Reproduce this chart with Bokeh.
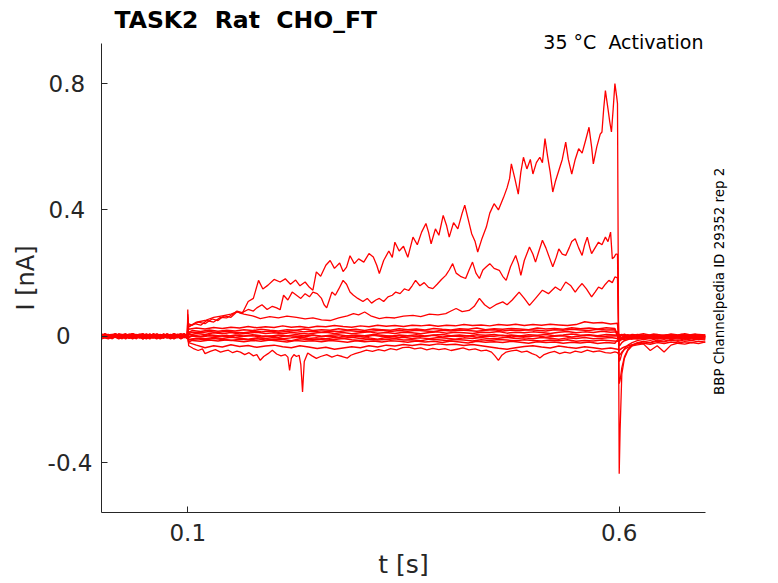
import math
from bokeh.plotting import figure
from bokeh.models import Range1d, FixedTicker, Label, Title
from bokeh.embed import file_html
from bokeh.resources import INLINE

# ---------------- data ----------------
t_pre_a = [0.000, 0.008, 0.016, 0.024, 0.032, 0.040, 0.048, 0.056, 0.064, 0.072, 0.080, 0.088, 0.096, 0.0995]
t_pre_b = [0.000, 0.004, 0.012, 0.020, 0.028, 0.036, 0.044, 0.052, 0.060, 0.068, 0.076, 0.084, 0.092, 0.0995]
t_step_a = [0.100, 0.101, 0.110, 0.120, 0.130, 0.140, 0.150, 0.160, 0.170, 0.180, 0.190, 0.200, 0.210,
            0.220, 0.230, 0.240, 0.250, 0.260, 0.270, 0.280, 0.290, 0.300, 0.310, 0.320, 0.330, 0.340,
            0.350, 0.360, 0.370, 0.380, 0.390, 0.400, 0.410, 0.420, 0.430, 0.440, 0.450, 0.460, 0.470,
            0.480, 0.490, 0.500, 0.510, 0.520, 0.530, 0.540, 0.550, 0.560, 0.570, 0.580, 0.590, 0.598]
t_step_b = [0.100, 0.101, 0.105, 0.115, 0.125, 0.135, 0.145, 0.155, 0.165, 0.175, 0.185, 0.195, 0.205,
            0.215, 0.225, 0.235, 0.245, 0.255, 0.265, 0.275, 0.285, 0.295, 0.305, 0.315, 0.325, 0.335,
            0.345, 0.355, 0.365, 0.375, 0.385, 0.395, 0.405, 0.415, 0.425, 0.435, 0.445, 0.455, 0.465,
            0.475, 0.485, 0.495, 0.505, 0.515, 0.525, 0.535, 0.545, 0.555, 0.565, 0.575, 0.585, 0.595]
t_tail_a = [0.600, 0.601, 0.603, 0.606, 0.610, 0.615, 0.621, 0.628, 0.636, 0.644, 0.652, 0.660, 0.668,
            0.676, 0.684, 0.692, 0.700]
t_tail_b = [0.600, 0.601, 0.603, 0.606, 0.610, 0.615, 0.621, 0.632, 0.640, 0.648, 0.656, 0.664, 0.672,
            0.680, 0.688, 0.696, 0.700]

# pre-pulse baseline values per trace
pre_A = [0.004, -0.006, 0.008, -0.002, 0.006, -0.008, 0.004, 0.000, -0.006, 0.008, -0.004, 0.006, -0.002, 0.004]
pre_B = [-0.004, 0.006, -0.008, 0.004, -0.002, 0.008, -0.006, 0.002, 0.006, -0.004, 0.008, -0.006, 0.004, -0.002]
pre_C = [0.008, -0.002, 0.004, -0.008, 0.006, 0.000, -0.004, 0.008, -0.006, 0.002, -0.008, 0.004, 0.006, 0.000]
pre_D = [-0.008, 0.004, 0.000, 0.006, -0.006, 0.004, 0.008, -0.004, 0.002, -0.006, 0.004, -0.002, 0.008, -0.004]
pre_E = [0.002, 0.008, -0.004, 0.000, 0.008, -0.006, 0.002, -0.008, 0.006, 0.004, -0.002, 0.008, -0.006, 0.002]
pre_F = [-0.002, -0.008, 0.006, 0.002, -0.004, 0.006, -0.008, 0.004, 0.000, 0.006, -0.006, 0.002, -0.004, 0.006]
pre_G = [0.006, 0.000, -0.006, 0.008, 0.002, -0.004, 0.006, -0.006, 0.008, -0.002, 0.004, -0.008, 0.002, -0.006]
pre_H = [-0.006, 0.002, 0.008, -0.004, 0.004, 0.002, -0.008, 0.006, -0.004, 0.000, 0.006, -0.004, 0.008, 0.000]
pre_J = [0.000, -0.004, 0.002, 0.006, -0.008, 0.008, 0.000, -0.006, 0.004, -0.008, 0.002, 0.006, -0.008, 0.004]
pre_K = [0.004, 0.006, -0.002, -0.006, 0.004, -0.002, 0.006, 0.002, -0.008, 0.006, 0.000, -0.004, 0.004, -0.008]
pre_L = [-0.002, 0.004, 0.006, -0.006, 0.000, 0.006, -0.004, 0.008, -0.002, -0.004, 0.008, 0.000, -0.006, 0.006]
pre_M = [0.006, -0.004, 0.002, -0.008, 0.004, 0.008, -0.002, 0.000, -0.006, 0.006, -0.004, 0.002, 0.008, -0.002]
pre_N = [-0.008, 0.000, 0.006, 0.002, -0.006, -0.002, 0.004, -0.008, 0.008, -0.004, 0.000, 0.006, -0.004, 0.002]
pre_O = [0.000, 0.008, -0.006, 0.004, 0.006, -0.008, 0.002, 0.006, -0.002, 0.004, -0.006, 0.008, 0.000, -0.004]

# large activation traces (time, current) during the pulse
step_A = [(0.1000, 0.085), (0.1005, 0.040), (0.105, 0.035), (0.112, 0.045), (0.120, 0.040), (0.128, 0.055),
          (0.135, 0.050), (0.142, 0.065), (0.150, 0.060), (0.157, 0.078), (0.163, 0.072), (0.170, 0.110),
          (0.176, 0.120), (0.182, 0.177), (0.187, 0.150), (0.193, 0.162), (0.200, 0.180), (0.207, 0.172),
          (0.213, 0.182), (0.219, 0.165), (0.225, 0.178), (0.230, 0.160), (0.236, 0.172), (0.241, 0.155),
          (0.245, 0.146), (0.249, 0.204), (0.254, 0.190), (0.260, 0.225), (0.265, 0.240), (0.270, 0.215),
          (0.276, 0.232), (0.280, 0.205), (0.284, 0.219), (0.288, 0.255), (0.293, 0.230), (0.298, 0.245),
          (0.304, 0.235), (0.310, 0.262), (0.315, 0.251), (0.319, 0.225), (0.322, 0.199), (0.327, 0.240),
          (0.333, 0.270), (0.337, 0.250), (0.340, 0.298), (0.345, 0.270), (0.350, 0.285), (0.355, 0.250),
          (0.361, 0.314), (0.366, 0.290), (0.371, 0.330), (0.376, 0.357), (0.379, 0.330), (0.382, 0.293),
          (0.387, 0.340), (0.391, 0.320), (0.396, 0.383), (0.400, 0.350), (0.403, 0.314), (0.408, 0.360),
          (0.413, 0.340), (0.418, 0.390), (0.421, 0.415), (0.425, 0.370), (0.429, 0.325), (0.433, 0.300),
          (0.436, 0.267), (0.441, 0.310), (0.446, 0.346), (0.450, 0.390), (0.455, 0.420), (0.460, 0.400),
          (0.466, 0.440), (0.470, 0.470), (0.473, 0.500), (0.475, 0.546), (0.479, 0.500), (0.483, 0.450),
          (0.486, 0.520), (0.489, 0.567), (0.493, 0.530), (0.497, 0.560), (0.500, 0.514), (0.504, 0.550),
          (0.508, 0.567), (0.511, 0.550), (0.514, 0.626), (0.517, 0.570), (0.520, 0.520), (0.523, 0.457),
          (0.526, 0.490), (0.530, 0.525), (0.534, 0.560), (0.538, 0.615), (0.541, 0.560), (0.545, 0.514),
          (0.549, 0.560), (0.553, 0.594), (0.557, 0.580), (0.561, 0.620), (0.565, 0.662), (0.568, 0.600),
          (0.570, 0.546), (0.574, 0.600), (0.578, 0.640), (0.580, 0.647), (0.582, 0.720), (0.584, 0.778),
          (0.587, 0.720), (0.589, 0.680), (0.591, 0.647), (0.593, 0.720), (0.595, 0.800), (0.597, 0.760),
          (0.598, 0.737)]

step_B = [(0.1000, 0.060), (0.101, 0.030), (0.108, 0.040), (0.115, 0.035), (0.122, 0.050), (0.130, 0.045),
          (0.138, 0.060), (0.145, 0.058), (0.152, 0.070), (0.157, 0.080), (0.163, 0.075), (0.170, 0.085),
          (0.176, 0.080), (0.180, 0.090), (0.186, 0.100), (0.192, 0.085), (0.198, 0.095), (0.203, 0.090),
          (0.207, 0.084), (0.211, 0.130), (0.216, 0.115), (0.221, 0.140), (0.226, 0.130), (0.231, 0.120),
          (0.236, 0.135), (0.241, 0.125), (0.245, 0.140), (0.250, 0.135), (0.255, 0.120), (0.258, 0.100),
          (0.261, 0.090), (0.264, 0.115), (0.267, 0.140), (0.271, 0.130), (0.275, 0.150), (0.280, 0.177),
          (0.284, 0.165), (0.288, 0.140), (0.292, 0.130), (0.297, 0.120), (0.303, 0.110), (0.308, 0.120),
          (0.313, 0.105), (0.318, 0.115), (0.322, 0.120), (0.327, 0.110), (0.332, 0.125), (0.337, 0.130),
          (0.341, 0.140), (0.346, 0.135), (0.351, 0.150), (0.356, 0.145), (0.360, 0.160), (0.364, 0.177),
          (0.369, 0.160), (0.374, 0.170), (0.379, 0.155), (0.384, 0.151), (0.389, 0.165), (0.394, 0.180),
          (0.399, 0.193), (0.403, 0.210), (0.407, 0.230), (0.411, 0.200), (0.416, 0.190), (0.422, 0.183),
          (0.426, 0.210), (0.430, 0.235), (0.434, 0.200), (0.438, 0.183), (0.442, 0.210), (0.446, 0.220),
          (0.450, 0.230), (0.455, 0.215), (0.461, 0.209), (0.465, 0.190), (0.469, 0.177), (0.474, 0.220),
          (0.480, 0.256), (0.483, 0.230), (0.486, 0.193), (0.490, 0.240), (0.496, 0.283), (0.500, 0.260),
          (0.503, 0.235), (0.507, 0.270), (0.511, 0.304), (0.515, 0.280), (0.519, 0.250), (0.523, 0.220),
          (0.527, 0.250), (0.530, 0.277), (0.534, 0.260), (0.538, 0.256), (0.542, 0.280), (0.545, 0.300),
          (0.549, 0.309), (0.553, 0.280), (0.557, 0.256), (0.560, 0.290), (0.563, 0.314), (0.566, 0.280),
          (0.568, 0.262), (0.572, 0.280), (0.576, 0.298), (0.580, 0.290), (0.584, 0.314), (0.587, 0.300),
          (0.590, 0.330), (0.592, 0.246), (0.594, 0.250), (0.596, 0.260), (0.598, 0.260)]

step_C = [(0.1000, 0.070), (0.101, 0.030), (0.110, 0.045), (0.120, 0.050), (0.130, 0.060), (0.140, 0.065),
          (0.150, 0.070), (0.157, 0.077), (0.165, 0.070), (0.175, 0.065), (0.184, 0.056), (0.195, 0.062),
          (0.205, 0.058), (0.215, 0.064), (0.226, 0.060), (0.236, 0.055), (0.245, 0.058), (0.255, 0.052),
          (0.265, 0.050), (0.275, 0.058), (0.285, 0.065), (0.292, 0.072), (0.298, 0.068), (0.305, 0.077),
          (0.312, 0.065), (0.322, 0.056), (0.330, 0.060), (0.340, 0.058), (0.350, 0.064), (0.361, 0.066),
          (0.370, 0.062), (0.380, 0.070), (0.390, 0.068), (0.399, 0.072), (0.405, 0.080), (0.411, 0.088),
          (0.418, 0.078), (0.426, 0.082), (0.432, 0.095), (0.438, 0.120), (0.444, 0.100), (0.450, 0.088),
          (0.457, 0.100), (0.465, 0.109), (0.470, 0.100), (0.476, 0.115), (0.484, 0.140), (0.490, 0.120),
          (0.496, 0.098), (0.503, 0.120), (0.511, 0.146), (0.518, 0.135), (0.526, 0.156), (0.532, 0.145),
          (0.538, 0.172), (0.544, 0.160), (0.549, 0.140), (0.553, 0.155), (0.557, 0.167), (0.562, 0.150),
          (0.568, 0.125), (0.572, 0.140), (0.576, 0.156), (0.580, 0.150), (0.584, 0.165), (0.588, 0.177),
          (0.592, 0.170), (0.595, 0.188), (0.598, 0.185)]

step_L = [(0.100, 0.010), (0.101, -0.030), (0.106, -0.038), (0.112, -0.045), (0.117, -0.040), (0.120, -0.055),
          (0.126, -0.048), (0.132, -0.042), (0.138, -0.050), (0.143, -0.046), (0.147, -0.044), (0.152, -0.052),
          (0.157, -0.047), (0.161, -0.050), (0.166, -0.058), (0.171, -0.052), (0.176, -0.062), (0.180, -0.058),
          (0.184, -0.076), (0.188, -0.064), (0.193, -0.055), (0.198, -0.044), (0.203, -0.056), (0.208, -0.062),
          (0.213, -0.058), (0.216, -0.066), (0.218, -0.108), (0.220, -0.070), (0.223, -0.058), (0.226, -0.064),
          (0.229, -0.060), (0.231, -0.090), (0.233, -0.176), (0.235, -0.080), (0.239, -0.053), (0.244, -0.062),
          (0.249, -0.070), (0.254, -0.064), (0.261, -0.058), (0.267, -0.066), (0.273, -0.060), (0.279, -0.064),
          (0.285, -0.069), (0.289, -0.060), (0.294, -0.055), (0.300, -0.050), (0.307, -0.044), (0.314, -0.048),
          (0.321, -0.042), (0.328, -0.046), (0.335, -0.039), (0.342, -0.043), (0.349, -0.036), (0.356, -0.034),
          (0.363, -0.040), (0.370, -0.037), (0.377, -0.043), (0.384, -0.038), (0.391, -0.042), (0.398, -0.039),
          (0.405, -0.045), (0.412, -0.041), (0.419, -0.037), (0.426, -0.043), (0.433, -0.040), (0.440, -0.046),
          (0.446, -0.044), (0.452, -0.050), (0.456, -0.062), (0.460, -0.076), (0.464, -0.060), (0.469, -0.050),
          (0.475, -0.046), (0.481, -0.044), (0.487, -0.050), (0.493, -0.047), (0.499, -0.055), (0.504, -0.060),
          (0.508, -0.069), (0.513, -0.058), (0.519, -0.052), (0.525, -0.048), (0.531, -0.055), (0.537, -0.050),
          (0.543, -0.053), (0.549, -0.047), (0.556, -0.051), (0.563, -0.044), (0.570, -0.049), (0.577, -0.046),
          (0.584, -0.052), (0.590, -0.053), (0.595, -0.049), (0.598, -0.052)]

# smaller traces on the shared pulse time grids
step_D = [0.045, 0.022, 0.026, 0.023, 0.028, 0.025, 0.029, 0.026, 0.031, 0.027, 0.030, 0.028, 0.033,
          0.029, 0.031, 0.027, 0.032, 0.030, 0.034, 0.031, 0.029, 0.033, 0.030, 0.035, 0.032, 0.034,
          0.031, 0.035, 0.033, 0.036, 0.032, 0.035, 0.033, 0.037, 0.034, 0.036, 0.033, 0.037, 0.035,
          0.038, 0.034, 0.037, 0.035, 0.038, 0.036, 0.034, 0.037, 0.046, 0.042, 0.044, 0.039, 0.041]
step_E = [0.030, 0.012, 0.018, 0.015, 0.020, 0.016, 0.019, 0.017, 0.021, 0.018, 0.022, 0.019, 0.017,
          0.021, 0.019, 0.023, 0.018, 0.021, 0.019, 0.024, 0.020, 0.022, 0.018, 0.023, 0.021, 0.019,
          0.024, 0.021, 0.023, 0.020, 0.025, 0.022, 0.020, 0.024, 0.022, 0.026, 0.021, 0.024, 0.022,
          0.025, 0.023, 0.021, 0.026, 0.023, 0.025, 0.022, 0.027, 0.024, 0.026, 0.023, 0.027, 0.025]
step_F = [0.020, 0.004, 0.009, 0.006, 0.011, 0.008, 0.012, 0.007, 0.010, 0.013, 0.009, 0.011, 0.008,
          0.012, 0.010, 0.007, 0.011, 0.013, 0.009, 0.012, 0.008, 0.011, 0.014, 0.010, 0.012, 0.009,
          0.013, 0.011, 0.008, 0.012, 0.014, 0.010, 0.013, 0.011, 0.009, 0.013, 0.012, 0.015, 0.010,
          0.013, 0.011, 0.014, 0.012, 0.009, 0.013, 0.015, 0.011, 0.014, 0.012, 0.016, 0.013, 0.014]
step_G = [0.012, -0.002, 0.003, 0.000, 0.005, 0.002, -0.001, 0.004, 0.001, 0.005, 0.002, 0.000, 0.004,
          0.001, 0.006, 0.002, 0.004, 0.000, 0.003, 0.005, 0.001, 0.004, 0.002, 0.006, 0.003, 0.000,
          0.004, 0.002, 0.005, 0.001, 0.004, 0.006, 0.002, 0.004, 0.001, 0.005, 0.003, 0.006, 0.002,
          0.004, 0.001, 0.005, 0.003, 0.006, 0.002, 0.004, 0.007, 0.003, 0.005, 0.002, 0.006, 0.004]
step_H = [0.005, -0.010, -0.006, -0.008, -0.004, -0.007, -0.003, -0.006, -0.009, -0.005, -0.007, -0.004, -0.008,
          -0.005, -0.003, -0.007, -0.005, -0.008, -0.004, -0.006, -0.003, -0.007, -0.005, -0.009, -0.004, -0.006,
          -0.003, -0.007, -0.005, -0.008, -0.004, -0.006, -0.009, -0.005, -0.007, -0.004, -0.008, -0.006, -0.003,
          -0.007, -0.005, -0.008, -0.004, -0.006, -0.009, -0.005, -0.007, -0.004, -0.008, -0.006, -0.004, -0.007]
step_J = [0.000, -0.018, -0.013, -0.016, -0.012, -0.015, -0.011, -0.014, -0.017, -0.013, -0.016, -0.012, -0.015,
          -0.018, -0.013, -0.016, -0.014, -0.017, -0.013, -0.016, -0.019, -0.014, -0.017, -0.015, -0.018, -0.014,
          -0.016, -0.019, -0.015, -0.018, -0.016, -0.020, -0.015, -0.018, -0.021, -0.016, -0.019, -0.017, -0.020,
          -0.016, -0.019, -0.022, -0.017, -0.020, -0.018, -0.022, -0.019, -0.021, -0.018, -0.023, -0.020, -0.022]
step_K = [-0.005, -0.020, -0.028, -0.036, -0.030, -0.034, -0.027, -0.032, -0.029, -0.035, -0.031, -0.028, -0.033,
          -0.036, -0.030, -0.034, -0.039, -0.035, -0.041, -0.037, -0.033, -0.036, -0.030, -0.034, -0.028, -0.031,
          -0.026, -0.029, -0.025, -0.028, -0.024, -0.027, -0.025, -0.029, -0.026, -0.030, -0.034, -0.038, -0.041,
          -0.036, -0.032, -0.030, -0.034, -0.037, -0.031, -0.035, -0.038, -0.033, -0.036, -0.040, -0.037, -0.041]
step_M = [0.008, -0.004, 0.001, -0.002, 0.002, -0.001, 0.003, -0.003, 0.000, 0.002, -0.002, 0.001, -0.003,
          0.002, 0.000, -0.002, 0.003, -0.001, 0.001, -0.003, 0.002, 0.000, -0.002, 0.003, -0.001, 0.001,
          -0.003, 0.002, -0.001, 0.000, 0.003, -0.002, 0.001, -0.001, 0.002, -0.003, 0.001, 0.000, 0.003,
          -0.002, 0.001, -0.001, 0.002, -0.003, 0.000, 0.002, -0.002, 0.001, 0.003, -0.001, 0.000, 0.002]
step_N = [0.002, -0.012, -0.008, -0.011, -0.007, -0.010, -0.013, -0.009, -0.011, -0.008, -0.012, -0.009, -0.010,
          -0.014, -0.008, -0.011, -0.009, -0.012, -0.010, -0.007, -0.011, -0.013, -0.009, -0.012, -0.010, -0.008,
          -0.012, -0.011, -0.014, -0.009, -0.011, -0.013, -0.010, -0.012, -0.015, -0.011, -0.013, -0.010, -0.012,
          -0.014, -0.011, -0.013, -0.015, -0.012, -0.014, -0.011, -0.016, -0.013, -0.015, -0.012, -0.014, -0.016]
step_O = [0.025, 0.008, 0.013, 0.011, 0.015, 0.012, 0.016, 0.013, 0.011, 0.015, 0.014, 0.017, 0.013,
          0.015, 0.018, 0.014, 0.016, 0.013, 0.017, 0.015, 0.018, 0.016, 0.014, 0.017, 0.019, 0.015,
          0.018, 0.016, 0.019, 0.017, 0.015, 0.019, 0.017, 0.020, 0.018, 0.016, 0.019, 0.021, 0.017,
          0.020, 0.018, 0.021, 0.019, 0.017, 0.021, 0.019, 0.022, 0.020, 0.018, 0.022, 0.020, 0.021]

# tail currents after the pulse
tail_A = [-0.435, -0.300, -0.120, -0.070, -0.045, -0.030, -0.022, -0.018, -0.021, -0.015, -0.018, -0.012,
          -0.016, -0.011, -0.014, -0.009, -0.012]
tail_B = [-0.150, -0.140, -0.100, -0.065, -0.042, -0.028, -0.020, -0.016, -0.019, -0.012, -0.015, -0.010,
          -0.013, -0.008, -0.012, -0.007, -0.010]
tail_C = [-0.080, -0.075, -0.055, -0.040, -0.028, -0.020, -0.014, -0.010, -0.013, -0.007, -0.010, -0.005,
          -0.009, -0.004, -0.008, -0.003, -0.006]
tail_D = [-0.030, -0.028, -0.020, -0.014, -0.010, -0.006, -0.009, -0.004, -0.007, -0.002, -0.006, -0.001,
          -0.005, 0.000, -0.004, 0.001, -0.003]
tail_E = [-0.015, -0.014, -0.010, -0.006, -0.003, -0.006, -0.001, -0.004, 0.001, -0.003, 0.002, -0.002,
          0.003, -0.001, 0.002, -0.003, 0.001]
tail_F = [-0.008, -0.007, -0.004, 0.000, -0.003, 0.002, -0.002, 0.003, -0.001, 0.002, -0.002, 0.004,
          0.000, 0.003, -0.001, 0.002, 0.000]
tail_G = [0.004, 0.003, 0.006, 0.002, 0.005, 0.001, 0.006, 0.002, 0.007, 0.003, 0.005, 0.001, 0.006,
          0.003, 0.007, 0.002, 0.005]
tail_H = [0.006, 0.005, 0.003, 0.007, 0.002, 0.006, 0.004, 0.008, 0.003, 0.006, 0.002, 0.007, 0.004,
          0.008, 0.003, 0.006, 0.004]
tail_J = [-0.005, -0.004, -0.008, -0.003, -0.007, -0.002, -0.006, -0.003, -0.008, -0.004, -0.007, -0.002,
          -0.006, -0.003, -0.007, -0.004, -0.006]
tail_K = [-0.045, -0.042, -0.038, -0.034, -0.030, -0.027, -0.024, -0.022, -0.025, -0.020, -0.023, -0.018,
          -0.021, -0.017, -0.020, -0.016, -0.019]
tail_L = [-0.060, -0.058, -0.050, -0.042, -0.035, -0.030, -0.027, -0.024, -0.045, -0.030, -0.050, -0.028,
          -0.022, -0.025, -0.020, -0.023, -0.018]
tail_M = [0.000, -0.001, 0.002, -0.003, 0.001, -0.002, 0.003, -0.001, 0.002, -0.004, 0.000, 0.002, -0.003,
          0.001, -0.002, 0.003, -0.001]
tail_N = [-0.012, -0.011, -0.009, -0.010, -0.007, -0.009, -0.006, -0.008, -0.005, -0.008, -0.004, -0.007,
          -0.005, -0.008, -0.004, -0.006, -0.005]
tail_O = [-0.010, -0.009, -0.006, -0.003, -0.005, -0.001, -0.004, 0.001, -0.003, 0.002, -0.002, 0.003,
          -0.001, 0.002, -0.003, 0.001, -0.001]

x_ticks = [0.1, 0.6]
y_ticks = [-0.4, 0.0, 0.4, 0.8]
x_tick_labels = ["0.1", "0.6"]
# figure / punctuation spaces reproduce the reference's label placement
y_tick_labels = ["-0.4", "0\u2007\u2008", "0.4\u2008", "0.8\u2008"]

# non-breaking spaces keep the double gaps of the original strings
title_text = "TASK2 \u00a0Rat \u00a0CHO_FT"
cond_text = "35 °C \u00a0Activation"
side_text = "BBP Channelpedia ID 29352 rep 2"
x_label = "t [s]"
y_label = "I [nA]"

# ---------------- figure ----------------
FONT = "DejaVu Sans"
TXT = "#262626"
FL, FT, FR, FB = 101, 43, 705, 512      # frame edges in page pixels
W, H = 778, 583
XR = (0.0, 0.7)
YR = (-0.558, 0.9272)

p = figure(width=W, height=H, output_backend="svg", toolbar_location=None, title=None,
           x_range=Range1d(*XR), y_range=Range1d(*YR),
           min_border_left=FL, min_border_right=W - FR, min_border_top=FT, min_border_bottom=H - FB)
p.background_fill_color = "white"
p.border_fill_color = "white"
p.outline_line_color = None
p.xgrid.visible = False
p.ygrid.visible = False

for ax in (p.xaxis[0], p.yaxis[0]):
    ax.axis_line_color = TXT
    ax.major_tick_line_color = TXT
    ax.major_tick_in = 6
    ax.major_tick_out = 0
    ax.minor_tick_line_color = None
    ax.major_label_text_font = FONT
    ax.major_label_text_font_size = "23px"
    ax.major_label_text_color = TXT
    ax.axis_label_text_font = FONT
    ax.axis_label_text_font_style = "normal"
    ax.axis_label_text_color = TXT

p.xaxis.ticker = FixedTicker(ticks=x_ticks)
p.yaxis.ticker = FixedTicker(ticks=y_ticks)
p.xaxis.major_label_overrides = dict(zip(x_ticks, x_tick_labels))
p.yaxis.major_label_overrides = dict(zip(y_ticks, y_tick_labels))
p.xaxis.major_label_standoff = 11
p.yaxis.major_label_standoff = 9
p.xaxis.axis_label = x_label
p.xaxis.axis_label_text_font_size = "25px"
p.xaxis.axis_label_standoff = 6
p.yaxis.axis_label = y_label
p.yaxis.axis_label_text_font_size = "24px"
p.yaxis.axis_label_standoff = 5

# right-hand caption: a rotated label living in the right side panel
side = Label(x=XR[0] + (718.5 - FL) / (FR - FL) * (XR[1] - XR[0]), y=(336 - 281) / 316.0,
             text=side_text, text_font=FONT, text_font_size="13.4px", text_color="black",
             text_align="center", text_baseline="alphabetic", angle=math.pi / 2)
p.add_layout(side, "right")

# condition text (nearest to the frame) and main title in the top panel
cond_ok = True
try:
    cond = Title(text=cond_text, align="right", offset=2, vertical_align="top", standoff=-21.6,
                 text_font=FONT, text_font_size="19px", text_font_style="normal", text_color="black")
    p.add_layout(cond, "above")
except Exception:
    cond_ok = False

main = Title(text=title_text, align="left", offset=13, vertical_align="top",
             standoff=11 if cond_ok else 10,
             text_font=FONT, text_font_size="23.5px", text_font_style="bold", text_color="black")
p.add_layout(main, "above")

if not cond_ok:
    p.add_layout(Label(x=0.6977, y=(336 - 58) / 316.0, text=cond_text, text_font=FONT,
                       text_font_size="19px", text_color="black", text_align="right",
                       text_baseline="alphabetic"))


def unzip(pairs):
    return [a for a, _ in pairs], [b for _, b in pairs]


big = [(pre_L, step_L, tail_L), (pre_C, step_C, tail_C), (pre_B, step_B, tail_B), (pre_A, step_A, tail_A)]
small = [(pre_D, t_step_a, step_D, tail_D), (pre_E, t_step_b, step_E, tail_E),
         (pre_F, t_step_a, step_F, tail_F), (pre_G, t_step_b, step_G, tail_G),
         (pre_H, t_step_a, step_H, tail_H), (pre_J, t_step_b, step_J, tail_J),
         (pre_K, t_step_a, step_K, tail_K), (pre_M, t_step_b, step_M, tail_M),
         (pre_N, t_step_a, step_N, tail_N), (pre_O, t_step_b, step_O, tail_O)]

for k, (pre, ts, vs, tail) in enumerate(small):
    tp = t_pre_a if k % 2 == 0 else t_pre_b
    tt = t_tail_a if k % 2 == 0 else t_tail_b
    n = min(len(ts), len(vs))
    p.line(tp + ts[:n] + tt, pre + vs[:n] + tail, line_color="#ff0000", line_width=1.5)
for k, (pre, pairs, tail) in enumerate(big):
    st, sv = unzip(pairs)
    tp = t_pre_b if k % 2 == 0 else t_pre_a
    p.line(tp + st + t_tail_a, pre + sv + tail, line_color="#ff0000", line_width=1.3)

open("out.html", "w").write(file_html(p, INLINE))
